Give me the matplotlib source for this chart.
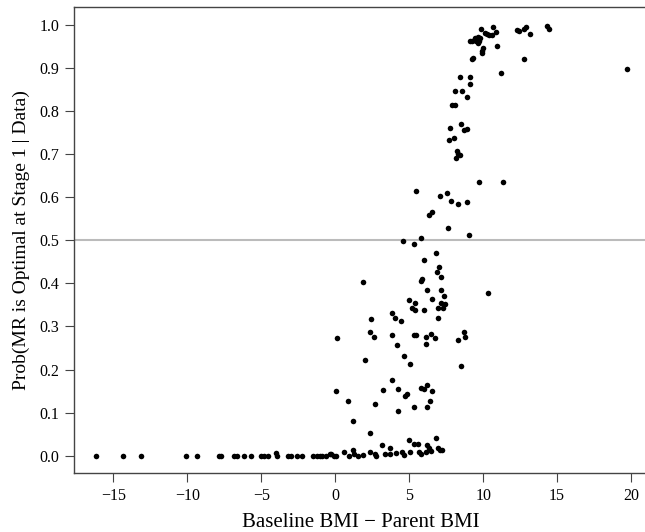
import matplotlib
matplotlib.use("Agg")
import matplotlib.pyplot as plt
import numpy as np

plt.rcParams['font.family'] = ['Liberation Serif', 'DejaVu Serif']

# flat tail, prob ~ 0
x_low = [-16.19, -14.35, -13.12, -10.10, -9.35, -7.87, -7.70, -6.87, -6.64, -6.20,
         -5.67, -5.02, -4.83, -4.55, -3.99, -3.94, -3.18, -2.99, -2.60, -2.23,
         -1.48, -1.26, -1.06, -0.87, -0.64, -0.36, -0.28, -0.08, 0.06]
y_low = [0.0, 0.0, 0.0, 0.0, 0.0, 0.0, 0.0, 0.0, 0.0, 0.0,
         0.0, 0.0, 0.0, 0.0, 0.006, 0.0, 0.0, 0.0, 0.0, 0.0,
         0.0, 0.0, 0.0, 0.0, 0.0, 0.003, 0.004, 0.0, 0.0]

# near-zero points for positive differences
x_near0 = [0.59, 0.92, 1.17, 1.26, 1.51, 1.87, 2.34, 2.34, 2.68, 2.76,
           3.18, 3.38, 3.71, 3.68, 4.10, 4.52, 4.63, 4.97, 5.05, 5.30,
           5.58, 5.67, 5.83, 6.11, 6.22, 6.34, 6.45, 6.84, 6.98, 7.06, 7.20]
y_near0 = [0.009, 0.0, 0.013, 0.004, 0.0, 0.002, 0.052, 0.009, 0.004, 0.0,
           0.025, 0.003, 0.017, 0.004, 0.006, 0.008, 0.002, 0.036, 0.009, 0.027,
           0.027, 0.009, 0.004, 0.008, 0.024, 0.018, 0.012, 0.042, 0.018, 0.014, 0.013]

# middle band
x_mid = [0.11, 0.06, 0.87, 1.17, 1.90, 1.98, 2.34, 2.42, 2.64, 2.70,
         3.24, 3.82, 3.85, 3.82, 4.05, 4.16, 4.21, 4.21, 4.47, 4.66,
         4.69, 4.86, 5.00, 5.08, 5.22, 5.33, 5.36, 5.41, 5.33, 5.44,
         5.33, 4.61, 5.47, 5.78, 5.83, 5.89, 6.00, 6.00, 6.11, 6.11,
         5.83, 6.00, 6.22, 6.22, 6.22, 6.34, 6.53, 6.48, 6.56, 6.42,
         6.56, 6.75, 6.84, 6.89, 7.01, 7.12, 6.98, 6.98, 7.12, 7.12,
         7.26, 7.34, 7.45, 7.09, 7.56, 7.65, 7.81, 8.29, 8.90, 9.07,
         9.71, 11.36, 10.35, 8.32, 8.68, 8.79, 8.51]
y_mid = [0.274, 0.150, 0.127, 0.081, 0.404, 0.221, 0.287, 0.317, 0.275, 0.120,
         0.152, 0.332, 0.281, 0.175, 0.320, 0.256, 0.155, 0.104, 0.312, 0.231,
         0.138, 0.143, 0.361, 0.212, 0.342, 0.114, 0.354, 0.339, 0.281, 0.281,
         0.491, 0.499, 0.613, 0.506, 0.406, 0.409, 0.455, 0.337, 0.275, 0.259,
         0.158, 0.154, 0.384, 0.163, 0.114, 0.558, 0.566, 0.282, 0.364, 0.127,
         0.150, 0.274, 0.470, 0.426, 0.437, 0.415, 0.343, 0.319, 0.384, 0.355,
         0.342, 0.371, 0.352, 0.603, 0.610, 0.529, 0.592, 0.585, 0.589, 0.511,
         0.636, 0.635, 0.377, 0.269, 0.286, 0.275, 0.209]

# upper band
x_high = [7.68, 7.73, 8.04, 8.15, 8.23, 8.32, 8.46, 8.48, 8.68, 8.88,
          7.90, 8.07, 8.07, 8.60, 8.88, 8.43, 9.10, 9.10, 9.27, 9.32,
          9.91, 9.91, 9.96, 9.13, 9.27, 9.46, 9.55, 9.63, 9.68, 9.82,
          9.74, 9.85, 10.13, 10.24, 10.41, 10.69, 10.63, 10.88, 10.97, 11.19,
          12.31, 12.45, 12.75, 12.92, 13.17, 12.78, 14.29, 14.43, 19.70]
y_high = [0.733, 0.761, 0.736, 0.690, 0.706, 0.699, 0.697, 0.770, 0.756, 0.758,
          0.813, 0.813, 0.846, 0.845, 0.833, 0.879, 0.879, 0.862, 0.921, 0.923,
          0.940, 0.935, 0.945, 0.961, 0.961, 0.968, 0.962, 0.958, 0.972, 0.970,
          0.962, 0.989, 0.980, 0.978, 0.975, 0.994, 0.976, 0.983, 0.951, 0.889,
          0.987, 0.986, 0.989, 0.995, 0.978, 0.921, 0.996, 0.991, 0.898]

x = np.array(x_low + x_near0 + x_mid + x_high)
y = np.array(y_low + y_near0 + y_mid + y_high)

fig = plt.figure(figsize=(6.45, 5.32), dpi=100)
ax = fig.add_axes([0.1155, 0.111, 0.889, 0.875])

ax.axhline(0.5, color='#bbbbbb', lw=1.5, zorder=1)
ax.plot(x, y, 'o', color='black', markersize=4.0, markeredgewidth=0, zorder=2)

ax.set_xlim(-17.63, 21.14)
ax.set_ylim(-0.04, 1.04)
ax.set_xticks([-15, -10, -5, 0, 5, 10, 15, 20])
ax.set_xticklabels(['\u221215', '\u221210', '\u22125', '0', '5', '10', '15', '20'])
ax.set_yticks(np.arange(0, 1.01, 0.1))
ax.set_yticklabels(['%.1f' % v for v in np.arange(0, 1.01, 0.1)])

for s in ax.spines.values():
    s.set_color('#444444')
    s.set_linewidth(1.0)
ax.tick_params(direction='out', length=6.5, width=0.8, color='#444444',
               labelsize=11.5, pad=4.5)

ax.set_xlabel('Baseline BMI \u2212 Parent BMI', fontsize=15, labelpad=6)
ax.set_ylabel('Prob(MR is Optimal at Stage 1 | Data)', fontsize=14, labelpad=7)

fig.savefig('out.png', dpi=100)
